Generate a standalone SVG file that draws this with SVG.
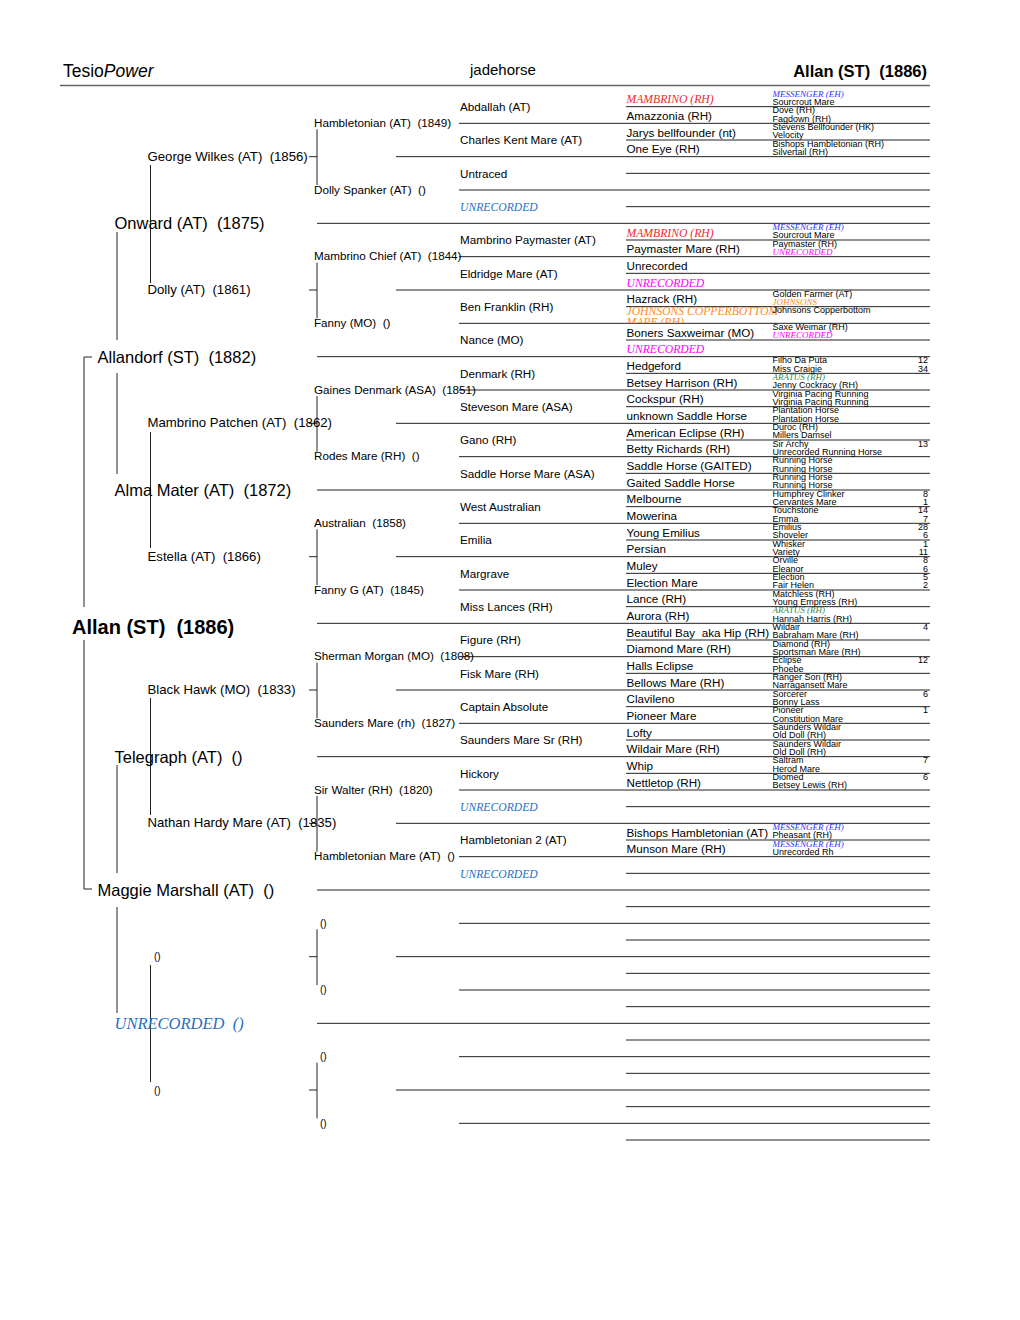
<svg xmlns="http://www.w3.org/2000/svg" width="1020" height="1320" viewBox="0 0 1020 1320">
<style>
text{font-family:"Liberation Sans",Arial,sans-serif;fill:#000;white-space:pre}
.h{font-size:16.5px}
.g0{font-size:20px;font-weight:bold}
.g12{font-size:16.5px}
.g3{font-size:13.2px}
.s{font-size:11.67px}
.t{font-size:9px}
.n{font-size:9px;text-anchor:end}
.p{font-size:10px}
.i{font-family:"Liberation Serif","Times New Roman",serif;font-style:italic}
.red{fill:#ee2a2a}
.blu{fill:#3333ff}
.mag{fill:#ff00ff}
.stb{fill:#1f6fc4}
.org{fill:#ff8c1a}
.grn{fill:#2e8b57}
.ln line{stroke:#222;stroke-width:1}
</style>
<defs>
<clipPath id="c13"><rect x="620" y="300" width="160" height="23.3"/></clipPath>
</defs>
<rect width="1020" height="1320" fill="#fff"/>
<g id="header">
<text x="63" y="76.5" font-size="17.5px">Tesio<tspan font-style="italic">Power</tspan></text>
<text x="470" y="74.5" font-size="15px">jadehorse</text>
<text class="h" x="927" y="76.5" font-weight="bold" text-anchor="end">Allan (ST)  (1886)</text>
<line x1="60" y1="85.5" x2="930" y2="85.5" stroke="#666" stroke-width="1.3"/>
</g>
<g id="connectors" class="ln">
<line x1="626" y1="106.67" x2="930" y2="106.67"/>
<line x1="459" y1="123.33" x2="930" y2="123.33"/>
<line x1="626" y1="140" x2="930" y2="140"/>
<line x1="396" y1="156.67" x2="930" y2="156.67"/>
<line x1="626" y1="173.33" x2="930" y2="173.33"/>
<line x1="459" y1="190" x2="930" y2="190"/>
<line x1="626" y1="206.67" x2="930" y2="206.67"/>
<line x1="317" y1="223.33" x2="930" y2="223.33"/>
<line x1="626" y1="240" x2="930" y2="240"/>
<line x1="459" y1="256.67" x2="930" y2="256.67"/>
<line x1="626" y1="273.33" x2="930" y2="273.33"/>
<line x1="396" y1="290" x2="930" y2="290"/>
<line x1="626" y1="306.67" x2="930" y2="306.67"/>
<line x1="459" y1="323.33" x2="930" y2="323.33"/>
<line x1="626" y1="340" x2="930" y2="340"/>
<line x1="317" y1="356.67" x2="930" y2="356.67"/>
<line x1="626" y1="373.33" x2="930" y2="373.33"/>
<line x1="459" y1="390" x2="930" y2="390"/>
<line x1="626" y1="406.67" x2="930" y2="406.67"/>
<line x1="396" y1="423.33" x2="930" y2="423.33"/>
<line x1="626" y1="440" x2="930" y2="440"/>
<line x1="459" y1="456.67" x2="930" y2="456.67"/>
<line x1="626" y1="473.33" x2="930" y2="473.33"/>
<line x1="317" y1="490" x2="930" y2="490"/>
<line x1="626" y1="506.67" x2="930" y2="506.67"/>
<line x1="459" y1="523.33" x2="930" y2="523.33"/>
<line x1="626" y1="540" x2="930" y2="540"/>
<line x1="396" y1="556.67" x2="930" y2="556.67"/>
<line x1="626" y1="573.33" x2="930" y2="573.33"/>
<line x1="459" y1="590" x2="930" y2="590"/>
<line x1="626" y1="606.67" x2="930" y2="606.67"/>
<line x1="317" y1="623.33" x2="930" y2="623.33"/>
<line x1="626" y1="640" x2="930" y2="640"/>
<line x1="459" y1="656.67" x2="930" y2="656.67"/>
<line x1="626" y1="673.33" x2="930" y2="673.33"/>
<line x1="396" y1="690" x2="930" y2="690"/>
<line x1="626" y1="706.67" x2="930" y2="706.67"/>
<line x1="459" y1="723.33" x2="930" y2="723.33"/>
<line x1="626" y1="740" x2="930" y2="740"/>
<line x1="317" y1="756.67" x2="930" y2="756.67"/>
<line x1="626" y1="773.33" x2="930" y2="773.33"/>
<line x1="459" y1="790" x2="930" y2="790"/>
<line x1="626" y1="806.67" x2="930" y2="806.67"/>
<line x1="396" y1="823.33" x2="930" y2="823.33"/>
<line x1="626" y1="840" x2="930" y2="840"/>
<line x1="459" y1="856.67" x2="930" y2="856.67"/>
<line x1="626" y1="873.33" x2="930" y2="873.33"/>
<line x1="317" y1="890" x2="930" y2="890"/>
<line x1="626" y1="906.67" x2="930" y2="906.67"/>
<line x1="459" y1="923.33" x2="930" y2="923.33"/>
<line x1="626" y1="940" x2="930" y2="940"/>
<line x1="396" y1="956.67" x2="930" y2="956.67"/>
<line x1="626" y1="973.33" x2="930" y2="973.33"/>
<line x1="459" y1="990" x2="930" y2="990"/>
<line x1="626" y1="1006.67" x2="930" y2="1006.67"/>
<line x1="317" y1="1023.33" x2="930" y2="1023.33"/>
<line x1="626" y1="1040" x2="930" y2="1040"/>
<line x1="459" y1="1056.67" x2="930" y2="1056.67"/>
<line x1="626" y1="1073.33" x2="930" y2="1073.33"/>
<line x1="396" y1="1090" x2="930" y2="1090"/>
<line x1="626" y1="1106.67" x2="930" y2="1106.67"/>
<line x1="459" y1="1123.33" x2="930" y2="1123.33"/>
<line x1="626" y1="1140" x2="930" y2="1140"/>
<line x1="317" y1="129.3" x2="317" y2="185"/>
<line x1="317" y1="262.7" x2="317" y2="318.3"/>
<line x1="317" y1="396" x2="317" y2="451.7"/>
<line x1="317" y1="529.3" x2="317" y2="585"/>
<line x1="317" y1="662.7" x2="317" y2="718.3"/>
<line x1="317" y1="796" x2="317" y2="851.7"/>
<line x1="317" y1="929.3" x2="317" y2="985"/>
<line x1="317" y1="1062.7" x2="317" y2="1118.3"/>
<line x1="309" y1="156.67" x2="317" y2="156.67"/>
<line x1="309" y1="290" x2="317" y2="290"/>
<line x1="309" y1="423.33" x2="317" y2="423.33"/>
<line x1="309" y1="556.67" x2="317" y2="556.67"/>
<line x1="309" y1="690" x2="317" y2="690"/>
<line x1="309" y1="823.33" x2="317" y2="823.33"/>
<line x1="309" y1="956.67" x2="317" y2="956.67"/>
<line x1="309" y1="1090" x2="317" y2="1090"/>
<line x1="150.5" y1="165" x2="150.5" y2="283"/>
<line x1="150.5" y1="432" x2="150.5" y2="548"/>
<line x1="150.5" y1="698" x2="150.5" y2="815"/>
<line x1="150.5" y1="965" x2="150.5" y2="1082"/>
<line x1="117" y1="232" x2="117" y2="340"/>
<line x1="117" y1="373" x2="117" y2="474"/>
<line x1="117" y1="765" x2="117" y2="873"/>
<line x1="117" y1="907" x2="117" y2="1013"/>
<line x1="84" y1="357" x2="84" y2="607"/>
<line x1="84" y1="640" x2="84" y2="889"/>
<line x1="84" y1="357" x2="92" y2="357"/>
<line x1="84" y1="889" x2="92" y2="889"/>
</g>
<g id="n0"><text class="g0" x="72" y="633.5">Allan (ST)  (1886)</text></g>
<g id="n1a"><text class="g12" x="97.5" y="362.67">Allandorf (ST)  (1882)</text></g>
<g id="n1b"><text class="g12" x="97.5" y="896">Maggie Marshall (AT)  ()</text></g>
<g id="n2a"><text class="g12" x="114.5" y="229.33">Onward (AT)  (1875)</text></g>
<g id="n2b"><text class="g12" x="114.5" y="496">Alma Mater (AT)  (1872)</text></g>
<g id="n2c"><text class="g12" x="114.5" y="762.67">Telegraph (AT)  ()</text></g>
<g id="n2d"><text class="g12 i stb" x="114.5" y="1029.33">UNRECORDED  ()</text></g>
<g id="n3a"><text class="g3" x="147.5" y="160.67">George Wilkes (AT)  (1856)</text></g>
<g id="n3b"><text class="g3" x="147.5" y="294">Dolly (AT)  (1861)</text></g>
<g id="n3c"><text class="g3" x="147.5" y="427.33">Mambrino Patchen (AT)  (1862)</text></g>
<g id="n3d"><text class="g3" x="147.5" y="560.67">Estella (AT)  (1866)</text></g>
<g id="n3e"><text class="g3" x="147.5" y="694">Black Hawk (MO)  (1833)</text></g>
<g id="n3f"><text class="g3" x="147.5" y="827.33">Nathan Hardy Mare (AT)  (1835)</text></g>
<g id="n3g"><text class="p" x="154" y="960.3">()</text></g>
<g id="n3h"><text class="p" x="154" y="1093.6">()</text></g>
<g id="n4-0"><text class="s" x="314" y="126.93">Hambletonian (AT)  (1849)</text></g>
<g id="n4-1"><text class="s" x="314" y="193.6">Dolly Spanker (AT)  ()</text></g>
<g id="n4-2"><text class="s" x="314" y="260.27">Mambrino Chief (AT)  (1844)</text></g>
<g id="n4-3"><text class="s" x="314" y="326.93">Fanny (MO)  ()</text></g>
<g id="n4-4"><text class="s" x="314" y="393.6">Gaines Denmark (ASA)  (1851)</text></g>
<g id="n4-5"><text class="s" x="314" y="460.27">Rodes Mare (RH)  ()</text></g>
<g id="n4-6"><text class="s" x="314" y="526.93">Australian  (1858)</text></g>
<g id="n4-7"><text class="s" x="314" y="593.6">Fanny G (AT)  (1845)</text></g>
<g id="n4-8"><text class="s" x="314" y="660.27">Sherman Morgan (MO)  (1808)</text></g>
<g id="n4-9"><text class="s" x="314" y="726.93">Saunders Mare (rh)  (1827)</text></g>
<g id="n4-10"><text class="s" x="314" y="793.6">Sir Walter (RH)  (1820)</text></g>
<g id="n4-11"><text class="s" x="314" y="860.27">Hambletonian Mare (AT)  ()</text></g>
<g id="n4-12"><text class="p" x="320" y="926.6">()</text></g>
<g id="n4-13"><text class="p" x="320" y="993.3">()</text></g>
<g id="n4-14"><text class="p" x="320" y="1060">()</text></g>
<g id="n4-15"><text class="p" x="320" y="1126.6">()</text></g>
<g id="n5-0"><text class="s" x="460" y="110.87">Abdallah (AT)</text></g>
<g id="n5-1"><text class="s" x="460" y="144.2">Charles Kent Mare (AT)</text></g>
<g id="n5-2"><text class="s" x="460" y="177.53">Untraced</text></g>
<g id="n5-3"><text class="s i stb" x="460" y="210.87">UNRECORDED</text></g>
<g id="n5-4"><text class="s" x="460" y="244.2">Mambrino Paymaster (AT)</text></g>
<g id="n5-5"><text class="s" x="460" y="277.53">Eldridge Mare (AT)</text></g>
<g id="n5-6"><text class="s" x="460" y="310.87">Ben Franklin (RH)</text></g>
<g id="n5-7"><text class="s" x="460" y="344.2">Nance (MO)</text></g>
<g id="n5-8"><text class="s" x="460" y="377.53">Denmark (RH)</text></g>
<g id="n5-9"><text class="s" x="460" y="410.87">Steveson Mare (ASA)</text></g>
<g id="n5-10"><text class="s" x="460" y="444.2">Gano (RH)</text></g>
<g id="n5-11"><text class="s" x="460" y="477.53">Saddle Horse Mare (ASA)</text></g>
<g id="n5-12"><text class="s" x="460" y="510.87">West Australian</text></g>
<g id="n5-13"><text class="s" x="460" y="544.2">Emilia</text></g>
<g id="n5-14"><text class="s" x="460" y="577.53">Margrave</text></g>
<g id="n5-15"><text class="s" x="460" y="610.87">Miss Lances (RH)</text></g>
<g id="n5-16"><text class="s" x="460" y="644.2">Figure (RH)</text></g>
<g id="n5-17"><text class="s" x="460" y="677.53">Fisk Mare (RH)</text></g>
<g id="n5-18"><text class="s" x="460" y="710.87">Captain Absolute</text></g>
<g id="n5-19"><text class="s" x="460" y="744.2">Saunders Mare Sr (RH)</text></g>
<g id="n5-20"><text class="s" x="460" y="777.53">Hickory</text></g>
<g id="n5-21"><text class="s i stb" x="460" y="810.87">UNRECORDED</text></g>
<g id="n5-22"><text class="s" x="460" y="844.2">Hambletonian 2 (AT)</text></g>
<g id="n5-23"><text class="s i stb" x="460" y="877.53">UNRECORDED</text></g>
<g id="n6-0"><text class="s i red" x="626.5" y="103.4">MAMBRINO (RH)</text></g>
<g id="n6-1"><text class="s" x="626.5" y="120.07">Amazzonia (RH)</text></g>
<g id="n6-2"><text class="s" x="626.5" y="136.73">Jarys bellfounder (nt)</text></g>
<g id="n6-3"><text class="s" x="626.5" y="153.4">One Eye (RH)</text></g>
<g id="n6-8"><text class="s i red" x="626.5" y="236.73">MAMBRINO (RH)</text></g>
<g id="n6-9"><text class="s" x="626.5" y="253.4">Paymaster Mare (RH)</text></g>
<g id="n6-10"><text class="s" x="626.5" y="270.07">Unrecorded</text></g>
<g id="n6-11"><text class="s i mag" x="626.5" y="286.73">UNRECORDED</text></g>
<g id="n6-12"><text class="s" x="626.5" y="303.4">Hazrack (RH)</text></g>
<g id="n6-13"><g clip-path="url(#c13)"><text class="s i org" x="626.5" y="315">JOHNSONS COPPERBOTTOM</text><text class="s i org" x="626.5" y="326.4">MARE (RH)</text></g></g>
<g id="n6-14"><text class="s" x="626.5" y="336.73">Boners Saxweimar (MO)</text></g>
<g id="n6-15"><text class="s i mag" x="626.5" y="353.4">UNRECORDED</text></g>
<g id="n6-16"><text class="s" x="626.5" y="370.07">Hedgeford</text></g>
<g id="n6-17"><text class="s" x="626.5" y="386.73">Betsey Harrison (RH)</text></g>
<g id="n6-18"><text class="s" x="626.5" y="403.4">Cockspur (RH)</text></g>
<g id="n6-19"><text class="s" x="626.5" y="420.07">unknown Saddle Horse</text></g>
<g id="n6-20"><text class="s" x="626.5" y="436.73">American Eclipse (RH)</text></g>
<g id="n6-21"><text class="s" x="626.5" y="453.4">Betty Richards (RH)</text></g>
<g id="n6-22"><text class="s" x="626.5" y="470.07">Saddle Horse (GAITED)</text></g>
<g id="n6-23"><text class="s" x="626.5" y="486.73">Gaited Saddle Horse</text></g>
<g id="n6-24"><text class="s" x="626.5" y="503.4">Melbourne</text></g>
<g id="n6-25"><text class="s" x="626.5" y="520.07">Mowerina</text></g>
<g id="n6-26"><text class="s" x="626.5" y="536.73">Young Emilius</text></g>
<g id="n6-27"><text class="s" x="626.5" y="553.4">Persian</text></g>
<g id="n6-28"><text class="s" x="626.5" y="570.07">Muley</text></g>
<g id="n6-29"><text class="s" x="626.5" y="586.73">Election Mare</text></g>
<g id="n6-30"><text class="s" x="626.5" y="603.4">Lance (RH)</text></g>
<g id="n6-31"><text class="s" x="626.5" y="620.07">Aurora (RH)</text></g>
<g id="n6-32"><text class="s" x="626.5" y="636.73">Beautiful Bay  aka Hip (RH)</text></g>
<g id="n6-33"><text class="s" x="626.5" y="653.4">Diamond Mare (RH)</text></g>
<g id="n6-34"><text class="s" x="626.5" y="670.07">Halls Eclipse</text></g>
<g id="n6-35"><text class="s" x="626.5" y="686.73">Bellows Mare (RH)</text></g>
<g id="n6-36"><text class="s" x="626.5" y="703.4">Clavileno</text></g>
<g id="n6-37"><text class="s" x="626.5" y="720.07">Pioneer Mare</text></g>
<g id="n6-38"><text class="s" x="626.5" y="736.73">Lofty</text></g>
<g id="n6-39"><text class="s" x="626.5" y="753.4">Wildair Mare (RH)</text></g>
<g id="n6-40"><text class="s" x="626.5" y="770.07">Whip</text></g>
<g id="n6-41"><text class="s" x="626.5" y="786.73">Nettletop (RH)</text></g>
<g id="n6-44"><text class="s" x="626.5" y="836.73">Bishops Hambletonian (AT)</text></g>
<g id="n6-45"><text class="s" x="626.5" y="853.4">Munson Mare (RH)</text></g>
<g id="n7-0a"><text class="t i blu" x="772.5" y="96.5">MESSENGER (EH)</text></g>
<g id="n7-0b"><text class="t" x="772.5" y="105">Sourcrout Mare</text></g>
<g id="n7-1a"><text class="t" x="772.5" y="113.17">Dove (RH)</text></g>
<g id="n7-1b"><text class="t" x="772.5" y="121.67">Fagdown (RH)</text></g>
<g id="n7-2a"><text class="t" x="772.5" y="129.83">Stevens Bellfounder (HK)</text></g>
<g id="n7-2b"><text class="t" x="772.5" y="138.33">Velocity</text></g>
<g id="n7-3a"><text class="t" x="772.5" y="146.5">Bishops Hambletonian (RH)</text></g>
<g id="n7-3b"><text class="t" x="772.5" y="155">Silvertail (RH)</text></g>
<g id="n7-8a"><text class="t i blu" x="772.5" y="229.83">MESSENGER (EH)</text></g>
<g id="n7-8b"><text class="t" x="772.5" y="238.33">Sourcrout Mare</text></g>
<g id="n7-9a"><text class="t" x="772.5" y="246.5">Paymaster (RH)</text></g>
<g id="n7-9b"><text class="t i mag" x="772.5" y="255">UNRECORDED</text></g>
<g id="n7-12a"><text class="t" x="772.5" y="296.5">Golden Farmer (AT)</text></g>
<g id="n7-12b"><text class="t i org" x="772.5" y="305">JOHNSONS</text></g>
<g id="n7-13a"><text class="t" x="772.5" y="313.17">Johnsons Copperbottom</text></g>
<g id="n7-14a"><text class="t" x="772.5" y="329.83">Saxe Weimar (RH)</text></g>
<g id="n7-14b"><text class="t i mag" x="772.5" y="338.33">UNRECORDED</text></g>
<g id="n7-16a"><text class="t" x="772.5" y="363.17">Filho Da Puta</text><text class="n" x="928" y="363.17">12</text></g>
<g id="n7-16b"><text class="t" x="772.5" y="371.67">Miss Craigie</text><text class="n" x="928" y="371.67">34</text></g>
<g id="n7-17a"><text class="t i grn" x="772.5" y="379.83">ARATUS (RH)</text></g>
<g id="n7-17b"><text class="t" x="772.5" y="388.33">Jenny Cockracy (RH)</text></g>
<g id="n7-18a"><text class="t" x="772.5" y="396.5">Virginia Pacing Running</text></g>
<g id="n7-18b"><text class="t" x="772.5" y="405">Virginia Pacing Running</text></g>
<g id="n7-19a"><text class="t" x="772.5" y="413.17">Plantation Horse</text></g>
<g id="n7-19b"><text class="t" x="772.5" y="421.67">Plantation Horse</text></g>
<g id="n7-20a"><text class="t" x="772.5" y="429.83">Duroc (RH)</text></g>
<g id="n7-20b"><text class="t" x="772.5" y="438.33">Millers Damsel</text></g>
<g id="n7-21a"><text class="t" x="772.5" y="446.5">Sir Archy</text><text class="n" x="928" y="446.5">13</text></g>
<g id="n7-21b"><text class="t" x="772.5" y="455">Unrecorded Running Horse</text></g>
<g id="n7-22a"><text class="t" x="772.5" y="463.17">Running Horse</text></g>
<g id="n7-22b"><text class="t" x="772.5" y="471.67">Running Horse</text></g>
<g id="n7-23a"><text class="t" x="772.5" y="479.83">Running Horse</text></g>
<g id="n7-23b"><text class="t" x="772.5" y="488.33">Running Horse</text></g>
<g id="n7-24a"><text class="t" x="772.5" y="496.5">Humphrey Clinker</text><text class="n" x="928" y="496.5">8</text></g>
<g id="n7-24b"><text class="t" x="772.5" y="505">Cervantes Mare</text><text class="n" x="928" y="505">1</text></g>
<g id="n7-25a"><text class="t" x="772.5" y="513.17">Touchstone</text><text class="n" x="928" y="513.17">14</text></g>
<g id="n7-25b"><text class="t" x="772.5" y="521.67">Emma</text><text class="n" x="928" y="521.67">7</text></g>
<g id="n7-26a"><text class="t" x="772.5" y="529.83">Emilius</text><text class="n" x="928" y="529.83">28</text></g>
<g id="n7-26b"><text class="t" x="772.5" y="538.33">Shoveler</text><text class="n" x="928" y="538.33">6</text></g>
<g id="n7-27a"><text class="t" x="772.5" y="546.5">Whisker</text><text class="n" x="928" y="546.5">1</text></g>
<g id="n7-27b"><text class="t" x="772.5" y="555">Variety</text><text class="n" x="928" y="555">11</text></g>
<g id="n7-28a"><text class="t" x="772.5" y="563.17">Orville</text><text class="n" x="928" y="563.17">8</text></g>
<g id="n7-28b"><text class="t" x="772.5" y="571.67">Eleanor</text><text class="n" x="928" y="571.67">6</text></g>
<g id="n7-29a"><text class="t" x="772.5" y="579.83">Election</text><text class="n" x="928" y="579.83">5</text></g>
<g id="n7-29b"><text class="t" x="772.5" y="588.33">Fair Helen</text><text class="n" x="928" y="588.33">2</text></g>
<g id="n7-30a"><text class="t" x="772.5" y="596.5">Matchless (RH)</text></g>
<g id="n7-30b"><text class="t" x="772.5" y="605">Young Empress (RH)</text></g>
<g id="n7-31a"><text class="t i grn" x="772.5" y="613.17">ARATUS (RH)</text></g>
<g id="n7-31b"><text class="t" x="772.5" y="621.67">Hannah Harris (RH)</text></g>
<g id="n7-32a"><text class="t" x="772.5" y="629.83">Wildair</text><text class="n" x="928" y="629.83">4</text></g>
<g id="n7-32b"><text class="t" x="772.5" y="638.33">Babraham Mare (RH)</text></g>
<g id="n7-33a"><text class="t" x="772.5" y="646.5">Diamond (RH)</text></g>
<g id="n7-33b"><text class="t" x="772.5" y="655">Sportsman Mare (RH)</text></g>
<g id="n7-34a"><text class="t" x="772.5" y="663.17">Eclipse</text><text class="n" x="928" y="663.17">12</text></g>
<g id="n7-34b"><text class="t" x="772.5" y="671.67">Phoebe</text></g>
<g id="n7-35a"><text class="t" x="772.5" y="679.83">Ranger Son (RH)</text></g>
<g id="n7-35b"><text class="t" x="772.5" y="688.33">Narragansett Mare</text></g>
<g id="n7-36a"><text class="t" x="772.5" y="696.5">Sorcerer</text><text class="n" x="928" y="696.5">6</text></g>
<g id="n7-36b"><text class="t" x="772.5" y="705">Bonny Lass</text></g>
<g id="n7-37a"><text class="t" x="772.5" y="713.17">Pioneer</text><text class="n" x="928" y="713.17">1</text></g>
<g id="n7-37b"><text class="t" x="772.5" y="721.67">Constitution Mare</text></g>
<g id="n7-38a"><text class="t" x="772.5" y="729.83">Saunders Wildair</text></g>
<g id="n7-38b"><text class="t" x="772.5" y="738.33">Old Doll (RH)</text></g>
<g id="n7-39a"><text class="t" x="772.5" y="746.5">Saunders Wildair</text></g>
<g id="n7-39b"><text class="t" x="772.5" y="755">Old Doll (RH)</text></g>
<g id="n7-40a"><text class="t" x="772.5" y="763.17">Saltram</text><text class="n" x="928" y="763.17">7</text></g>
<g id="n7-40b"><text class="t" x="772.5" y="771.67">Herod Mare</text></g>
<g id="n7-41a"><text class="t" x="772.5" y="779.83">Diomed</text><text class="n" x="928" y="779.83">6</text></g>
<g id="n7-41b"><text class="t" x="772.5" y="788.33">Betsey Lewis (RH)</text></g>
<g id="n7-44a"><text class="t i blu" x="772.5" y="829.83">MESSENGER (EH)</text></g>
<g id="n7-44b"><text class="t" x="772.5" y="838.33">Pheasant (RH)</text></g>
<g id="n7-45a"><text class="t i blu" x="772.5" y="846.5">MESSENGER (EH)</text></g>
<g id="n7-45b"><text class="t" x="772.5" y="855">Unrecorded Rh</text></g>
</svg>
